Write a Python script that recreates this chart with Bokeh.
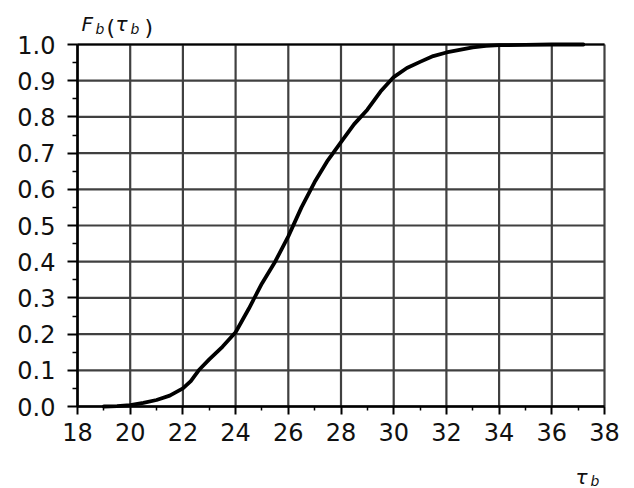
from bokeh.plotting import figure
from bokeh.models import Range1d, FixedTicker, Label
from bokeh.embed import file_html
from bokeh.resources import INLINE

# Empirical CDF of tau_b
tau = [19.0, 19.5, 20.0, 20.5, 21.0, 21.5, 22.0, 22.3, 22.6, 23.0, 23.5, 24.0,
       24.5, 25.0, 25.5, 26.0, 26.5, 27.0, 27.5, 28.0, 28.5, 29.0, 29.5, 30.0,
       30.5, 31.0, 31.5, 32.0, 32.5, 33.0, 33.5, 34.0, 35.0, 36.0, 37.2]
cdf = [0.0, 0.001, 0.004, 0.01, 0.018, 0.03, 0.05, 0.07, 0.1, 0.13, 0.165, 0.205,
       0.27, 0.34, 0.40, 0.47, 0.55, 0.62, 0.68, 0.73, 0.78, 0.82, 0.87, 0.91,
       0.935, 0.952, 0.968, 0.978, 0.985, 0.992, 0.996, 0.998, 0.999, 1.0, 1.0]

x_ticks = [18, 20, 22, 24, 26, 28, 30, 32, 34, 36, 38]
x_minor = [19, 21, 23, 25, 27, 29, 31, 33, 35, 37]
y_ticks = [0.0, 0.1, 0.2, 0.3, 0.4, 0.5, 0.6, 0.7, 0.8, 0.9, 1.0]
y_minor = [0.05, 0.15, 0.25, 0.35, 0.45, 0.55, 0.65, 0.75, 0.85, 0.95]
y_labels = ["0.0", "0.1", "0.2", "0.3", "0.4", "0.5", "0.6", "0.7", "0.8", "0.9", "1.0"]

# canvas geometry: the data box [18, 38] x [0, 1] sits at these pixel edges
W, H = 634, 488
BOX_L, BOX_R, BOX_T, BOX_B = 77, 604, 44, 406
XA, XB = x_ticks[0], x_ticks[-1]
YA, YB = y_ticks[0], y_ticks[-1]
sx = (BOX_R - BOX_L) / (XB - XA)
sy = (BOX_B - BOX_T) / (YB - YA)

# the frame fills the canvas; axes are pinned to the data box edges
p = figure(width=W, height=H, output_backend="svg", toolbar_location=None,
           x_range=Range1d(XA - BOX_L / sx, XB + (W - BOX_R) / sx),
           y_range=Range1d(YA - (H - BOX_B) / sy, YB + BOX_T / sy),
           min_border=0)
p.outline_line_color = None
p.background_fill_color = "white"
p.border_fill_color = "white"
p.xgrid.visible = False
p.ygrid.visible = False

grid_col = "#404040"
p.segment(x0=x_ticks, y0=[YA] * len(x_ticks), x1=x_ticks, y1=[YB] * len(x_ticks),
          line_color=grid_col, line_width=2.2)
p.segment(x0=[XA] * len(y_ticks), y0=y_ticks, x1=[XB] * len(y_ticks), y1=y_ticks,
          line_color=grid_col, line_width=2.2)
# darker top edge
p.segment(x0=[XA], y0=[YB], x1=[XB], y1=[YB], line_color="black", line_width=2.2)

p.xaxis.ticker = FixedTicker(ticks=x_ticks, minor_ticks=x_minor)
p.yaxis.ticker = FixedTicker(ticks=y_ticks, minor_ticks=y_minor)
p.yaxis.major_label_overrides = {t: s for t, s in zip(y_ticks, y_labels)}
p.xaxis.fixed_location = YA
p.yaxis.fixed_location = XA
p.xaxis.bounds = (XA, XB)
p.yaxis.bounds = (YA, YB)

for ax in (p.xaxis, p.yaxis):
    ax.axis_line_color = "black"
    ax.axis_line_width = 2.5
    ax.major_tick_line_color = "black"
    ax.minor_tick_line_color = "black"
    ax.major_tick_line_width = 2
    ax.minor_tick_line_width = 1.5
    ax.major_tick_in = 0
    ax.minor_tick_in = 0
    ax.major_label_text_font = "DejaVu Sans"
    ax.major_label_text_font_size = "24px"
    ax.major_label_text_color = "#111111"
p.xaxis.major_tick_out = 8
p.xaxis.minor_tick_out = 4
p.yaxis.major_tick_out = 10
p.yaxis.minor_tick_out = 5
p.yaxis.major_label_standoff = 12
p.xaxis.major_label_standoff = 8

p.line(tau, cdf, line_color="black", line_width=3.8, line_join="round", line_cap="round")


def put(txt, px, py, size, style="italic"):
    # px, py: canvas pixels from the top-left corner, py is the baseline
    p.add_layout(Label(x=XA + (px - BOX_L) / sx, y=YA + (BOX_B - py) / sy, text=txt,
                       text_font="DejaVu Sans", text_font_style=style,
                       text_font_size=size, text_color="#111111",
                       text_baseline="alphabetic", text_align="left"))


# y label: F_b(tau_b)
put("F", 81, 23, "20px")
put("b", 95, 28, "14px")
put("(", 106, 27, "22px", "normal")
put("τ", 115, 23, "20px")
put("b", 130, 28, "14px")
put(")", 144, 27, "22px", "normal")

# x label: tau_b
put("τ", 575, 476, "20px")
put("b", 590, 480, "14px")

open("out.html", "w").write(file_html(p, INLINE))
